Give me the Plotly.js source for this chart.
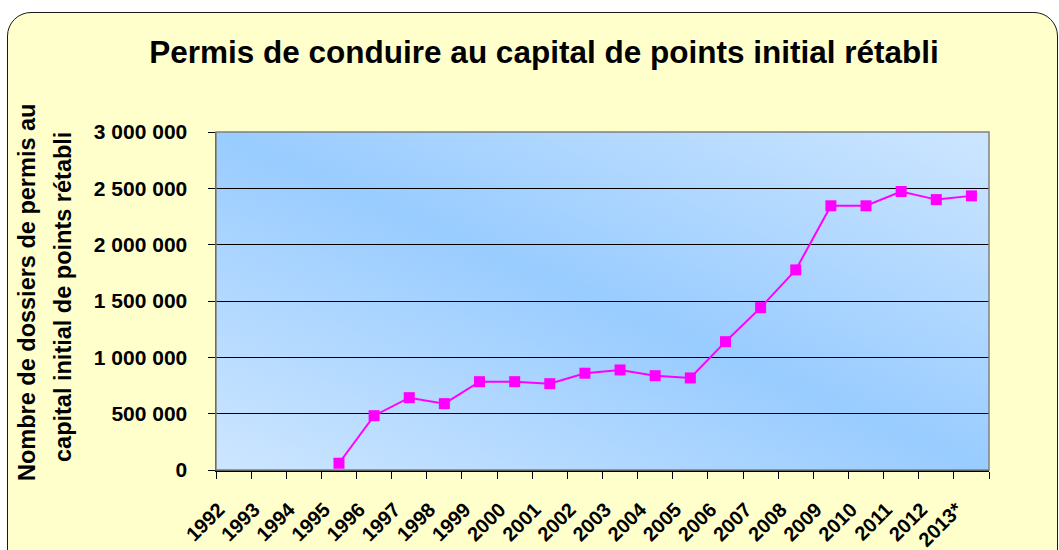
<!DOCTYPE html>
<html>
<head>
<meta charset="utf-8">
<script src="https://cdn.plot.ly/plotly-3.0.1.min.js"></script>
<style>
  html, body { margin: 0; padding: 0; background: #ffffff; width: 1059px; height: 550px; overflow: hidden; }
  #frame { position: absolute; left: 7px; top: 12px; width: 1049px; height: 600px;
           background: #FFFFCC; border: 1.5px solid #1a1a1a; border-radius: 24px; }
  #chart { position: absolute; left: 0; top: 0; width: 1059px; height: 550px; }
</style>
</head>
<body>
<div id="frame"></div>
<div id="chart"></div>
<script>
// ---- data ----
const categories = ['1992','1993','1994','1995','1996','1997','1998','1999','2000','2001','2002',
                    '2003','2004','2005','2006','2007','2008','2009','2010','2011','2012','2013*'];
const values = [null, null, null, 60000, 482000, 642000, 589000, 784000, 784000, 766000, 859000,
                888000, 837000, 817000, 1139000, 1441000, 1776000, 2345000, 2345000, 2472000, 2400000, 2433000];
const yTicks = [0, 500000, 1000000, 1500000, 2000000, 2500000, 3000000];
const titleText = 'Permis de conduire au capital de points initial rétabli';
const yTitleLine1 = 'Nombre de dossiers de permis au';
const yTitleLine2 = 'capital initial de points rétabli';

// ---- derived positions (category indices) ----
const xIdx = categories.map((c, i) => i);
const boundaryTicks = categories.map((c, i) => i - 0.5).concat([categories.length - 0.5]);
const labelTicks = categories.map((c, i) => i - 0.42);
const xRange = [-0.5, categories.length - 0.5];

const FONT = 'Liberation Sans, Arial, sans-serif';

const gradSvg = '<svg xmlns="http://www.w3.org/2000/svg" width="100" height="100" preserveAspectRatio="none">' +
  '<defs><linearGradient id="g" x1="0" y1="1" x2="1" y2="0">' +
  '<stop offset="0" stop-color="#CDE6FF"/><stop offset="0.5" stop-color="#99CCFF"/><stop offset="1" stop-color="#CDE6FF"/>' +
  '</linearGradient></defs><rect width="100" height="100" fill="url(#g)"/></svg>';
const gradUri = 'data:image/svg+xml;charset=utf-8,' + encodeURIComponent(gradSvg);

const trace = {
  x: xIdx,
  y: values,
  type: 'scatter',
  mode: 'lines+markers',
  line: { color: '#FF00FF', width: 2 },
  marker: { symbol: 'square', size: 11, color: '#FF00FF' },
  connectgaps: false,
  hoverinfo: 'skip',
  showlegend: false
};

const layout = {
  width: 1059, height: 550,
  margin: { l: 216, r: 70, t: 132, b: 80 },
  paper_bgcolor: 'rgba(0,0,0,0)',
  plot_bgcolor: 'rgba(0,0,0,0)',
  separators: ', ',
  font: { family: FONT, color: '#000' },
  title: {
    text: '<b>' + titleText + '</b>',
    font: { family: FONT, size: 31.5, color: '#000' },
    xref: 'container', x: 544 / 1059, xanchor: 'center',
    yref: 'container', y: 1 - 52 / 550, yanchor: 'middle'
  },
  xaxis: {
    range: xRange,
    tickmode: 'array', tickvals: boundaryTicks, ticktext: boundaryTicks.map(() => ''),
    ticks: 'outside', ticklen: 7, tickcolor: '#000', tickwidth: 1,
    showgrid: false, zeroline: false,
    showline: true, linecolor: '#000', linewidth: 1.5,
    fixedrange: true
  },
  xaxis2: {
    overlaying: 'x', anchor: 'y', side: 'bottom',
    range: xRange,
    tickmode: 'array', tickvals: labelTicks, ticktext: categories,
    tickangle: -45, ticks: '', showgrid: false, zeroline: false, showline: false,
    ticklabelstandoff: 23,
    tickfont: { family: FONT, size: 20, color: '#000', weight: 'bold' },
    fixedrange: true
  },
  yaxis: {
    range: [0, 3000000],
    tickmode: 'array', tickvals: yTicks,
    tickformat: ',d',
    ticks: 'outside', ticklen: 7, tickcolor: '#000', tickwidth: 1,
    ticklabelstandoff: 16,
    tickfont: { family: FONT, size: 21, color: '#000', weight: 'bold' },
    showgrid: true, gridcolor: '#000', gridwidth: 1,
    zeroline: false,
    showline: true, linecolor: '#333', linewidth: 1.5,
    fixedrange: true
  },
  images: [{
    source: gradUri, xref: 'paper', yref: 'paper',
    x: 0, y: 1, sizex: 1, sizey: 1, xanchor: 'left', yanchor: 'top',
    sizing: 'stretch', layer: 'below'
  }],
  shapes: [{
    type: 'rect', xref: 'paper', yref: 'paper', x0: 0, x1: 1, y0: 0, y1: 1,
    line: { color: '#808080', width: 1.5 }, fillcolor: 'rgba(0,0,0,0)', layer: 'above'
  }],
  annotations: [
    { text: '<b>' + yTitleLine1 + '</b>', xref: 'paper', yref: 'paper',
      x: (27 - 216) / 773, y: 0.5 + (301 - 293) / 338, xanchor: 'center', yanchor: 'middle',
      textangle: -90, showarrow: false, font: { family: FONT, size: 23.5, color: '#000' } },
    { text: '<b>' + yTitleLine2 + '</b>', xref: 'paper', yref: 'paper',
      x: (63 - 216) / 773, y: 0.5 + (301 - 297) / 338, xanchor: 'center', yanchor: 'middle',
      textangle: -90, showarrow: false, font: { family: FONT, size: 23.5, color: '#000' } }
  ]
};

const trace2 = { x: [], y: [], xaxis: 'x2', yaxis: 'y', type: 'scatter', showlegend: false, hoverinfo: 'skip' };

Plotly.newPlot('chart', [trace, trace2], layout, { displayModeBar: false, staticPlot: true });
</script>
</body>
</html>
